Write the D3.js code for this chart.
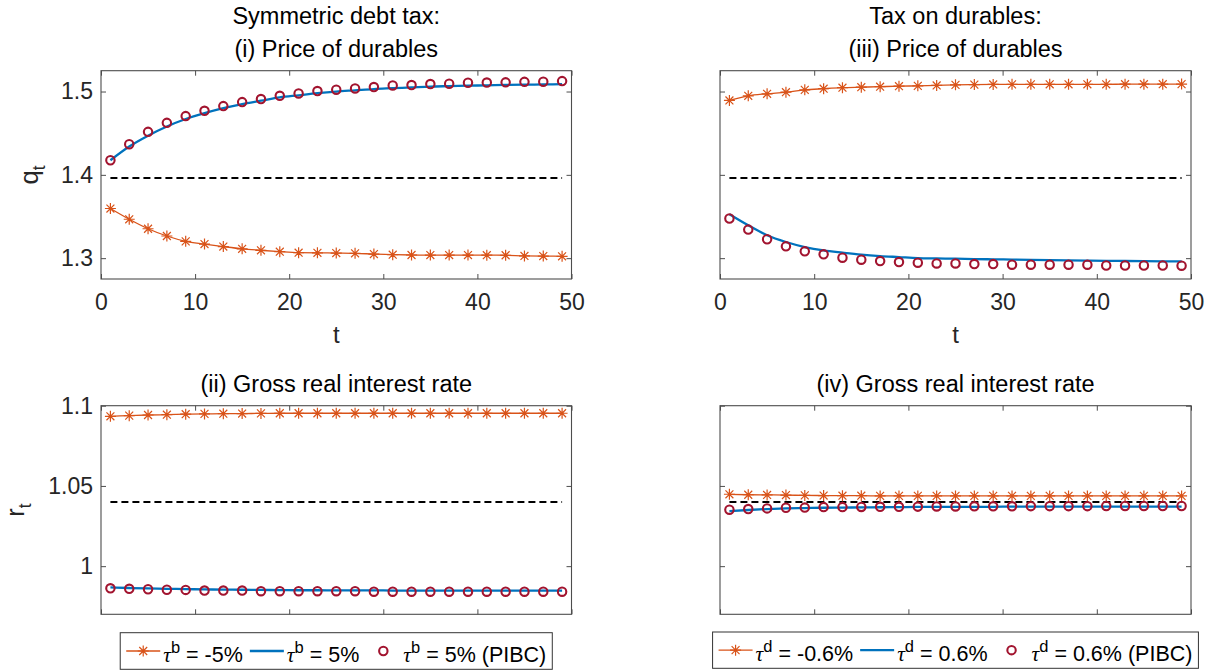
<!DOCTYPE html>
<html><head><meta charset="utf-8">
<script src="https://cdn.jsdelivr.net/npm/d3@7"></script>
<style>body{margin:0;background:#fff}svg{display:block}</style>
</head><body><svg id="c" width="1220" height="671"></svg>
<script>
// ---------------- data ----------------
const tVals = [1,3,5,7,9,11,13,15,17,19,21,23,25,27,29,31,33,35,37,39,41,43,45,47,49];
const xTickVals = [0,10,20,30,40,50];
const xTickLabels = ["0","10","20","30","40","50"];
const qTickVals = [1.3,1.4,1.5];
const qTickLabels = ["1.3","1.4","1.5"];
const rTickVals = [1,1.05,1.1];
const rTickLabels = ["1","1.05","1.1"];

// Panel (i): symmetric debt tax, price of durables
const p1Neg  = [1.3596,1.3467,1.3353,1.3266,1.3202,1.3169,1.3139,1.3112,1.3094,1.3078,1.3066,1.3064,1.3061,1.3058,1.3049,1.3042,1.3038,1.3037,1.3037,1.3037,1.3036,1.3035,1.3027,1.3025,1.3022];
const p1Pos  = [1.4175,1.4340,1.4470,1.4580,1.4670,1.4740,1.4800,1.4850,1.4890,1.4930,1.4955,1.4980,1.5000,1.5015,1.5030,1.5040,1.5050,1.5060,1.5065,1.5070,1.5075,1.5080,1.5082,1.5085,1.5088];
const p1Pibc = [1.4175,1.4367,1.4516,1.4624,1.4705,1.4769,1.4825,1.4873,1.4910,1.4949,1.4977,1.5006,1.5022,1.5037,1.5054,1.5073,1.5078,1.5090,1.5094,1.5106,1.5108,1.5110,1.5116,1.5118,1.5125];
const p1SS = 1.3961;

// Panel (iii): tax on durables, price of durables
const p2Neg  = [1.4893,1.4949,1.4973,1.4992,1.5020,1.5034,1.5046,1.5052,1.5058,1.5064,1.5068,1.5073,1.5080,1.5083,1.5085,1.5086,1.5086,1.5087,1.5087,1.5087,1.5087,1.5088,1.5088,1.5088,1.5089];
const p2Pos  = [1.3528,1.3395,1.3275,1.3194,1.3134,1.3093,1.3066,1.3042,1.3025,1.3013,1.3001,1.2997,1.2994,1.2989,1.2986,1.2983,1.2980,1.2977,1.2974,1.2971,1.2968,1.2966,1.2964,1.2962,1.2961];
const p2Pibc = [1.3476,1.3343,1.3227,1.3142,1.3082,1.3046,1.3006,1.2982,1.2965,1.2953,1.2946,1.2937,1.2937,1.2929,1.2929,1.2922,1.2922,1.2922,1.2922,1.2922,1.2912,1.2912,1.2912,1.2912,1.2910];
const p2SS = 1.3961;

// Panel (ii): symmetric debt tax, gross real interest rate
const p3Neg  = [1.0934,1.0938,1.0942,1.0944,1.0947,1.0949,1.0950,1.0951,1.0952,1.0953,1.0953,1.0953,1.0953,1.0953,1.0953,1.0953,1.0953,1.0953,1.0953,1.0953,1.0953,1.0953,1.0953,1.0953,1.0953];
const p3Pos  = [0.9868,0.9864,0.9861,0.9859,0.9857,0.9855,0.9854,0.9853,0.9852,0.9851,0.9850,0.9850,0.9849,0.9849,0.9849,0.9848,0.9848,0.9848,0.9848,0.9848,0.9848,0.9848,0.9848,0.9848,0.9848];
const p3Pibc = [0.9862,0.9859,0.9856,0.9853,0.9852,0.9848,0.9848,0.9848,0.9844,0.9844,0.9844,0.9844,0.9844,0.9844,0.9841,0.9841,0.9841,0.9841,0.9841,0.9841,0.9841,0.9841,0.9841,0.9841,0.9841];
const p3SS = 1.04;

// Panel (iv): tax on durables, gross real interest rate
const p4Neg  = [1.0448,1.0445,1.0444,1.0443,1.0441,1.0440,1.0439,1.0439,1.0438,1.0438,1.0438,1.0438,1.0438,1.0438,1.0438,1.0438,1.0438,1.0438,1.0438,1.0438,1.0438,1.0438,1.0438,1.0438,1.0438];
const p4Pos  = [1.0343,1.0350,1.0356,1.0360,1.0362,1.0364,1.0365,1.0366,1.0367,1.0368,1.0369,1.0369,1.0370,1.0370,1.0370,1.0371,1.0371,1.0371,1.0371,1.0371,1.0371,1.0371,1.0371,1.0371,1.0371];
const p4Pibc = [1.0352,1.0356,1.0360,1.0364,1.0365,1.0368,1.0368,1.0369,1.0370,1.0370,1.0371,1.0372,1.0372,1.0373,1.0373,1.0373,1.0374,1.0374,1.0374,1.0374,1.0375,1.0375,1.0375,1.0375,1.0375];
const p4SS = 1.04;

const titles = {
  p1: ["Symmetric debt tax:", "(i) Price of durables"],
  p2: ["Tax on durables:", "(iii) Price of durables"],
  p3: ["(ii) Gross real interest rate"],
  p4: ["(iv) Gross real interest rate"]
};
const legend1 = [
  {kind:"star",   sup:"b", txt:" = -5%"},
  {kind:"line",   sup:"b", txt:" = 5%"},
  {kind:"circle", sup:"b", txt:" = 5% (PIBC)"}
];
const legend2 = [
  {kind:"star",   sup:"d", txt:" = -0.6%"},
  {kind:"line",   sup:"d", txt:" = 0.6%"},
  {kind:"circle", sup:"d", txt:" = 0.6% (PIBC)"}
];

// ---------------- style ----------------
const C_OR = "#D95319", C_BL = "#0072BD", C_RD = "#A2142F";
const FONT = "'Liberation Sans', Arial, Helvetica, sans-serif";
const TICKFS = 23, TITLEFS = 23.5, LEGFS = 21.5;
const AXCOL = "#4d4d4d", TXTCOL = "#262626";
const STAR_R = 5.5, CIRC_R = 4.2, CIRC_W = 2.1;

const svg = d3.select("#c");
svg.append("rect").attr("width",1220).attr("height",671).attr("fill","#fff");

const layout = {
  p1: {x0:101, x1:571.5, y0:70.7, y1:279},
  p2: {x0:720, x1:1191, y0:70.7, y1:279},
  p3: {x0:101, x1:571.5, y0:405.7, y1:614.3},
  p4: {x0:720, x1:1191, y0:405.7, y1:614.3}
};

function starPath(r){
  const p = d3.path(), d = r*0.72;
  p.moveTo(-r,0); p.lineTo(r,0);
  p.moveTo(0,-r); p.lineTo(0,r);
  p.moveTo(-d,-d); p.lineTo(d,d);
  p.moveTo(-d,d); p.lineTo(d,-d);
  return p.toString();
}

function panel(key, cfg){
  const L = layout[key];
  const x = d3.scaleLinear().domain([0,50]).range([L.x0, L.x1]);
  const y = d3.scaleLinear().domain(cfg.ydom).range([L.y1, L.y0]);
  const g = svg.append("g");

  const gb = g.append("g").attr("transform",`translate(0,${L.y1})`)
    .call(d3.axisBottom(x).tickValues(xTickVals).tickSize(-5).tickPadding(15)
      .tickFormat((d,i)=> cfg.xlabels ? xTickLabels[i] : ""));
  const gt = g.append("g").attr("transform",`translate(0,${L.y0})`)
    .call(d3.axisTop(x).tickValues(xTickVals).tickSize(-5).tickFormat(""));
  const gl = g.append("g").attr("transform",`translate(${L.x0},0)`)
    .call(d3.axisLeft(y).tickValues(cfg.yticks).tickSize(-5).tickPadding(8)
      .tickFormat((d,i)=> cfg.ylabels ? cfg.ytickLabels[i] : ""));
  const gr = g.append("g").attr("transform",`translate(${L.x1},0)`)
    .call(d3.axisRight(y).tickValues(cfg.yticks).tickSize(-5).tickFormat(""));
  [gb,gt,gl,gr].forEach(a=>{
    a.select(".domain").remove();
    a.selectAll("line").attr("stroke",AXCOL).attr("stroke-width",1);
    a.selectAll("text").attr("font-family",FONT).attr("font-size",TICKFS).attr("fill",TXTCOL);
  });

  const clipId = "clip-"+key;
  svg.append("clipPath").attr("id",clipId).append("rect")
    .attr("x",L.x0).attr("y",L.y0).attr("width",L.x1-L.x0).attr("height",L.y1-L.y0);
  const plot = g.append("g").attr("clip-path",`url(#${clipId})`);

  // steady state dashed line
  plot.append("path")
    .attr("d", d3.line().x(d=>x(d)).y(()=>y(cfg.ss))([tVals[0], tVals[tVals.length-1]]))
    .attr("fill","none").attr("stroke","#000").attr("stroke-width",2)
    .attr("stroke-dasharray","7,4");

  const line = d3.line().x((d,i)=>x(tVals[i])).y(d=>y(d)).curve(d3.curveMonotoneX);
  plot.append("path").attr("d", line(cfg.neg))
    .attr("fill","none").attr("stroke",C_OR).attr("stroke-width",1.3);
  plot.selectAll(".st").data(cfg.neg).join("path")
    .attr("transform",(d,i)=>`translate(${x(tVals[i])},${y(d)})`)
    .attr("d", starPath(STAR_R)).attr("stroke",C_OR).attr("stroke-width",1.2).attr("fill","none");
  plot.append("path").attr("d", line(cfg.pos))
    .attr("fill","none").attr("stroke",C_BL).attr("stroke-width",2.3);
  plot.selectAll(".ci").data(cfg.pibc).join("circle")
    .attr("cx",(d,i)=>x(tVals[i])).attr("cy",d=>y(d)).attr("r",CIRC_R)
    .attr("fill","none").attr("stroke",C_RD).attr("stroke-width",CIRC_W);

  g.append("rect").attr("x",L.x0).attr("y",L.y0)
    .attr("width",L.x1-L.x0).attr("height",L.y1-L.y0)
    .attr("fill","none").attr("stroke",AXCOL).attr("stroke-width",1.1);

  const cx = (L.x0+L.x1)/2;
  const tl = titles[key];
  tl.forEach((s,i)=>{
    g.append("text").attr("x",cx).attr("y",L.y0-13.4-(tl.length-1-i)*33.3)
      .attr("text-anchor","middle").attr("font-family",FONT).attr("font-size",TITLEFS)
      .attr("fill","#000").text(s);
  });

  if (cfg.xlabels){
    g.append("text").attr("x",cx).attr("y",L.y1+64).attr("text-anchor","middle")
      .attr("font-family",FONT).attr("font-size",TICKFS+1).attr("fill",TXTCOL).text("t");
  }
  if (cfg.ylab){
    const cy = (L.y0+L.y1)/2;
    const t = g.append("text").attr("transform",`translate(${cfg.ylabX},${cy}) rotate(-90)`)
      .attr("text-anchor","middle").attr("font-family",FONT).attr("font-size",25.5).attr("fill",TXTCOL);
    t.append("tspan").text(cfg.ylab);
    t.append("tspan").attr("font-size",17.5).attr("dy",6.5).text("t");
  }
  return {x,y,L};
}

panel("p1",{ydom:[1.275,1.525], yticks:qTickVals, ytickLabels:qTickLabels, ylabels:true, xlabels:true,
  neg:p1Neg,pos:p1Pos,pibc:p1Pibc,ss:p1SS, ylab:"q", ylabX:38});
panel("p2",{ydom:[1.275,1.525], yticks:qTickVals, ytickLabels:qTickLabels, ylabels:false, xlabels:true,
  neg:p2Neg,pos:p2Pos,pibc:p2Pibc,ss:p2SS});
panel("p3",{ydom:[0.97,1.1], yticks:rTickVals, ytickLabels:rTickLabels, ylabels:true, xlabels:false,
  neg:p3Neg,pos:p3Pos,pibc:p3Pibc,ss:p3SS, ylab:"r", ylabX:24});
panel("p4",{ydom:[0.97,1.1], yticks:rTickVals, ytickLabels:rTickLabels, ylabels:false, xlabels:false,
  neg:p4Neg,pos:p4Pos,pibc:p4Pibc,ss:p4SS});

// ---------------- legends ----------------
function legend(items, L, top, bottom){
  const g = svg.append("g");
  const cy = (top+bottom)/2;
  const base = cy + 10.5;
  let xx = 6;
  const inner = g.append("g");
  items.forEach((it,i)=>{
    const ix = xx, iw = 34;
    if (it.kind !== "circle"){
      inner.append("line").attr("x1",ix).attr("x2",ix+iw).attr("y1",cy).attr("y2",cy)
        .attr("stroke", it.kind==="star"?C_OR:C_BL).attr("stroke-width", it.kind==="star"?1.3:2.3);
    }
    if (it.kind==="star"){
      inner.append("path").attr("transform",`translate(${ix+iw/2},${cy})`).attr("d",starPath(STAR_R))
        .attr("stroke",C_OR).attr("stroke-width",1.2).attr("fill","none");
    }
    if (it.kind==="circle"){
      inner.append("circle").attr("cx",ix+iw/2).attr("cy",cy).attr("r",CIRC_R)
        .attr("fill","none").attr("stroke",C_RD).attr("stroke-width",CIRC_W);
    }
    const t = inner.append("text").attr("x",ix+iw+3).attr("y",base)
      .attr("font-family",FONT).attr("font-size",LEGFS).attr("fill","#000");
    t.append("tspan").attr("font-family","'Liberation Serif', 'DejaVu Serif', serif").attr("font-style","italic").text("τ");
    t.append("tspan").attr("font-size",16.5).attr("dy",-8.5).text(it.sup);
    t.append("tspan").attr("dy",8.5).text(it.txt);
    const w = t.node().getComputedTextLength();
    xx = ix + iw + 3 + w + 7;
  });
  const width = xx - 7 + 6;
  const left = (L.x0+L.x1)/2 - width/2;
  g.insert("rect",":first-child").attr("x",0).attr("y",top).attr("width",width).attr("height",bottom-top)
    .attr("fill","#fff").attr("stroke","#333").attr("stroke-width",1);
  g.attr("transform",`translate(${left},0)`);
}
legend(legend1, layout.p3, 632.7, 669.3);
legend(legend2, layout.p4, 632, 668.3);
</script></body></html>
